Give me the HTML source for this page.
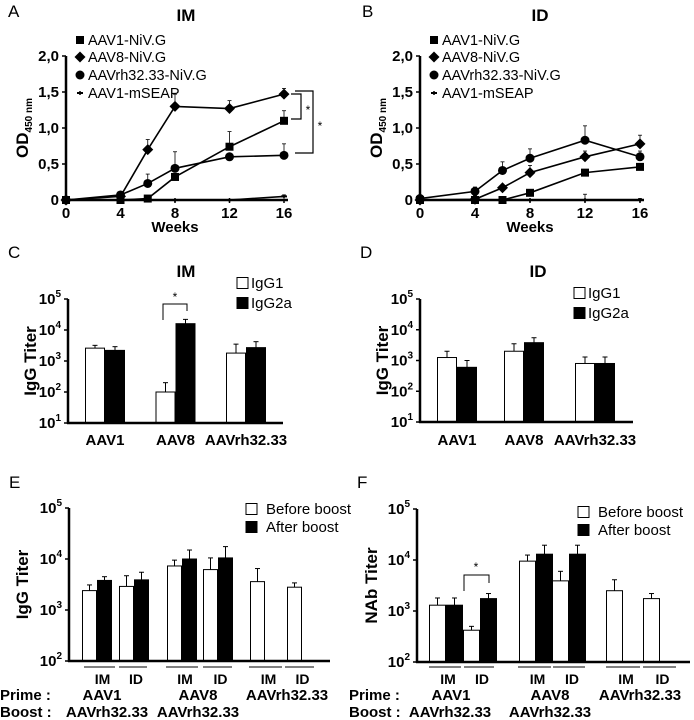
<!DOCTYPE html>
<html><head><meta charset="utf-8"><style>
html,body{margin:0;padding:0;background:#fff;}
svg{display:block;font-family:"Liberation Sans",Arial,sans-serif;}
</style></head>
<body>
<svg id="fig" width="694" height="720" viewBox="0 0 694 720" xmlns="http://www.w3.org/2000/svg"></svg>
<script>
// ---- Data: line panels (A: IM, B: ID) ----
const weeks = [0, 4, 6, 8, 12, 16];
const weekTicks = [0, 4, 8, 12, 16];
const odTicks = ["0", "0,5", "1,0", "1,5", "2,0"];
const odTickValues = [0, 0.5, 1.0, 1.5, 2.0];
const seriesNames = ["AAV1-NiV.G", "AAV8-NiV.G", "AAVrh32.33-NiV.G", "AAV1-mSEAP"];
const imAav1 = [0, 0, 0.02, 0.32, 0.74, 1.1];
const imAav1Err = [0, 0, 0, 0, 0.21, 0.14];
const imAav8 = [0, 0.05, 0.7, 1.3, 1.27, 1.47];
const imAav8Err = [0, 0, 0.14, 0.17, 0.11, 0.08];
const imRh = [0, 0.07, 0.23, 0.44, 0.6, 0.62];
const imRhErr = [0, 0, 0.13, 0.23, 0, 0.16];
const imSeap = [0, 0, 0, 0, 0, 0.05];
const imSeapErr = [0, 0, 0, 0, 0, 0.02];
const idAav1 = [0, 0, 0, 0.1, 0.38, 0.46];
const idAav1Err = [0, 0, 0, 0, 0, 0];
const idAav8 = [0, 0.01, 0.17, 0.38, 0.6, 0.78];
const idAav8Err = [0, 0, 0, 0.1, 0.08, 0.12];
const idRh = [0.02, 0.12, 0.41, 0.58, 0.83, 0.6];
const idRhErr = [0, 0.06, 0.12, 0.13, 0.2, 0.08];
const idSeap = [0, 0, 0, 0, 0, 0];
const idSeapErr = [0, 0, 0, 0, 0.08, 0.02];

// ---- Data: IgG subclass panels (C: IM, D: ID) ----
const subclassCats = ["AAV1", "AAV8", "AAVrh32.33"];
const imIgG1 = [2600, 100, 1800];
const imIgG1Top = [3200, 200, 3500];
const imIgG2a = [2200, 16000, 2700];
const imIgG2aTop = [2900, 22000, 4200];
const idIgG1 = [1250, 2000, 800];
const idIgG1Top = [2000, 3500, 1300];
const idIgG2a = [600, 3800, 800];
const idIgG2aTop = [1000, 5500, 1300];

// ---- Data: prime-boost panels (E: IgG, F: NAb) ----
const routeCats = ["IM", "ID", "IM", "ID", "IM", "ID"];
const eBefore = [2400, 2900, 7300, 6200, 3600, 2800];
const eBeforeTop = [3100, 4700, 9500, 10500, 6500, 3400];
const eAfter = [3800, 3900, 10000, 10500, null, null];
const eAfterTop = [4500, 5500, 15000, 17500, null, null];
const fBefore = [1300, 420, 9500, 3900, 2500, 1750];
const fBeforeTop = [1800, 500, 12500, 6000, 4100, 2200];
const fAfter = [1300, 1750, 13000, 13000, null, null];
const fAfterTop = [1800, 2200, 19500, 19500, null, null];

const NS = "http://www.w3.org/2000/svg";
const svg = document.getElementById("fig");
function mk(tag, attrs, parent) {
  const e = document.createElementNS(NS, tag);
  for (const k in attrs) e.setAttribute(k, attrs[k]);
  (parent || svg).appendChild(e);
  return e;
}
function txt(s, x, y, size, bold, anchor, parent) {
  const t = mk("text", {x: x, y: y, "font-size": size, "text-anchor": anchor || "start", "font-weight": bold ? "bold" : "normal"}, parent);
  t.textContent = s;
  return t;
}
function line(x1, y1, x2, y2, w, parent) {
  return mk("line", {x1: x1, y1: y1, x2: x2, y2: y2, stroke: "#000", "stroke-width": w || 1}, parent);
}
function marker(kind, x, y, g) {
  if (kind === 0) mk("rect", {x: x - 4, y: y - 4, width: 8, height: 8, fill: "#000"}, g);
  else if (kind === 1) mk("polygon", {points: `${x},${y-5.5} ${x+5.5},${y} ${x},${y+5.5} ${x-5.5},${y}`, fill: "#000"}, g);
  else if (kind === 2) mk("circle", {cx: x, cy: y, r: 4.5, fill: "#000"}, g);
  else { line(x - 3, y, x + 3, y, 2, g); line(x, y - 2, x, y + 2, 1.5, g); }
}

function linePanel(name, ox, x16, letter, title, series, errs) {
  const g = mk("g", {});
  
  
  const y0 = 200, y2 = 56;
  const X = w => ox + (x16 - ox) * w / 16;
  const Y = v => y0 - (y0 - y2) * v / 2;
  const L = txt(letter, ox - 58, 17, 17, false, "start", g);
  
  
  const T = txt(title, ox + 120, 21, 17, true, "middle", g);
  
  
  series.forEach((s, si) => {
    const sg = mk("g", {}, g);
    
    
    const pts = weeks.map((w, i) => X(w) + "," + Y(s[i])).join(" ");
    mk("polyline", {points: pts, fill: "none", stroke: "#000", "stroke-width": 1.6}, sg);
    weeks.forEach((w, i) => {
      const e = errs[si][i];
      if (e > 0) { line(X(w), Y(s[i]), X(w), Y(s[i] + e), 0.8, sg); line(X(w) - 2, Y(s[i] + e), X(w) + 2, Y(s[i] + e), 0.8, sg); }
      marker(si, X(w), Y(s[i]), sg);
    });
  });
  const ax = mk("g", {}, g);
  
  
  line(ox, y2, ox, y0 + 1, 2.5, ax);
  line(ox - 1, y0, X(16) + 4, y0, 2.5, ax);
  odTickValues.forEach((v, i) => {
    line(ox - 4, Y(v), ox, Y(v), 1.5, ax);
    txt(odTicks[i], ox - 7, Y(v) + 5, 15, true, "end", ax);
  });
  weekTicks.forEach(w => {
    line(X(w), y0, X(w), y0 + 3, 1.5, ax);
    txt(String(w), X(w), 218, 15, true, "middle", ax);
  });
  const xt = txt("Weeks", X(8), 232, 15, true, "middle", ax);
  
  
  const yt = mk("text", {transform: `translate(${ox - 38},128) rotate(-90)`, "font-size": 17, "font-weight": "bold", "text-anchor": "middle"}, ax);
  
  
  yt.innerHTML = 'OD<tspan font-size="10" dy="4">450 nm</tspan>';
  const lg = mk("g", {}, g);
  
  
  [40, 57, 75, 93].forEach((yy, i) => {
    marker(i, ox + 14, yy, lg);
    const lt = txt(seriesNames[i], ox + 22, yy + 5, 14.5, false, "start", lg);
    
    
  });
  return {g: g, X: X, Y: Y};
}

function logTick(ax, x, y, exp) {
  const t = mk("text", {x: x, y: y + 5, "font-size": 15, "font-weight": "bold", "text-anchor": "end"}, ax);
  t.innerHTML = '10<tspan font-size="10" dy="-7">' + exp + '</tspan>';
}

function barPanel(cfg) {
  const g = mk("g", {});
  
  
  const Y = v => cfg.yBot - (Math.log10(v) - cfg.dMin) * (cfg.yBot - cfg.yTop) / (cfg.dMax - cfg.dMin);
  const L = txt(cfg.letter, cfg.ox - 60, cfg.letterY, 17, false, "start", g);
  
  
  if (cfg.title) {
    const T = txt(cfg.title, cfg.ox + 118, 277, 17, true, "middle", g);
    
    
  }
  const bw = cfg.bw;
  cfg.centers.forEach((c, i) => {
    [[cfg.s1, cfg.s1Top, "#fff", c - bw, "bar-white"], [cfg.s2, cfg.s2Top, "#000", c, "bar-black"]].forEach(([vals, tops, fill, x0, nm]) => {
      const v = vals[i];
      if (v == null) return;
      const bg = mk("g", {}, g);
      
      
      const xm = x0 + bw / 2;
      line(xm, Y(v), xm, Y(tops[i]), 1, bg);
      line(xm - 2.5, Y(tops[i]), xm + 2.5, Y(tops[i]), 1, bg);
      mk("rect", {x: x0 + 0.5, y: Y(v), width: bw - 1, height: cfg.yBot - Y(v), fill: fill, stroke: "#000", "stroke-width": 1}, bg);
    });
  });
  const ax = mk("g", {}, g);
  
  
  line(cfg.ox, cfg.yTop, cfg.ox, cfg.yBot + 1, 2.5, ax);
  line(cfg.ox - 1, cfg.yBot, cfg.xEnd, cfg.yBot, 2.5, ax);
  for (let d = cfg.dMin; d <= cfg.dMax; d++) {
    const yy = Y(Math.pow(10, d));
    line(cfg.ox - 4, yy, cfg.ox, yy, 1.5, ax);
    logTick(ax, cfg.ox - 7, yy, d);
  }
  const yt = txt(cfg.ylabel, 0, 0, 17, true, "middle", ax);
  yt.setAttribute("transform", `translate(${cfg.ylx},${(cfg.yTop + cfg.yBot) / 2}) rotate(-90)`);
  
  
  const lg = mk("g", {}, g);
  
  
  cfg.legend.forEach((s, i) => {
    const yy = cfg.legY + i * cfg.legDy;
    mk("rect", {x: cfg.legX, y: yy - 5.5, width: 11, height: 11, fill: i ? "#000" : "#fff", stroke: "#000", "stroke-width": 1}, lg);
    const lt = txt(s, cfg.legX + cfg.legTx, yy + 5, 15, false, "start", lg);
    
    
  });
  return {g: g, Y: Y, ax: ax};
}

// Panel A
const pA = linePanel("panel-a-im-od", 66, 284, "A", "IM", [imAav1, imAav8, imRh, imSeap], [imAav1Err, imAav8Err, imRhErr, imSeapErr]);
{
  const sg = mk("g", {}, pA.g);
  
  
  mk("polyline", {points: "291,94 301,94 301,119 291,119", fill: "none", stroke: "#000", "stroke-width": 1.2}, sg);
  mk("polyline", {points: "295,91 313,91 313,153 295,153", fill: "none", stroke: "#000", "stroke-width": 1.2}, sg);
  txt("*", 308, 114, 12, false, "middle", sg);
  txt("*", 320, 130, 12, false, "middle", sg);
}
// Panel B
linePanel("panel-b-id-od", 420, 640, "B", "ID", [idAav1, idAav8, idRh, idSeap], [idAav1Err, idAav8Err, idRhErr, idSeapErr]);

// Panel C
const pC = barPanel({name: "panel-c-im-igg", letter: "C", letterY: 258, title: "IM", ox: 68, xEnd: 283, yTop: 299, yBot: 423, dMin: 1, dMax: 5,
  centers: [105, 175.5, 246], bw: 20, s1: imIgG1, s1Top: imIgG1Top, s2: imIgG2a, s2Top: imIgG2aTop, ylabel: "IgG Titer", ylx: 36,
  legend: ["IgG1", "IgG2a"], legX: 237, legY: 283, legDy: 20, legTx: 14});
subclassCats.forEach((c, i) => {
  const t = txt(c, [105, 175.5, 246][i], 445, 15, true, "middle", pC.ax);
  
  
});
{
  const sg = mk("g", {}, pC.g);
  
  
  mk("polyline", {points: "163,320 163,304 187,304 187,311", fill: "none", stroke: "#000", "stroke-width": 1}, sg);
  txt("*", 175, 301, 12, false, "middle", sg);
}
// Panel D
const pD = barPanel({name: "panel-d-id-igg", letter: "D", letterY: 258, title: "ID", ox: 420, xEnd: 633, yTop: 299, yBot: 422, dMin: 1, dMax: 5,
  centers: [457, 524, 595], bw: 20, s1: idIgG1, s1Top: idIgG1Top, s2: idIgG2a, s2Top: idIgG2aTop, ylabel: "IgG Titer", ylx: 388,
  legend: ["IgG1", "IgG2a"], legX: 574, legY: 293, legDy: 20, legTx: 14});
subclassCats.forEach((c, i) => {
  const t = txt(c, [457, 524, 595][i], 445, 15, true, "middle", pD.ax);
  
  
});

function primeBoost(p, segs, primeX, boostX, labelX) {
  const lg = mk("g", {}, p.g);
  
  
  segs.forEach(([a, b], i) => {
    line(a, 667, b, 667, 1, lg);
    const t = txt(routeCats[i], (a + b) / 2 + 3, 684, 14, true, "middle", lg);
    
    
  });
  txt("Prime :", labelX, 700, 15, true, "start", lg);
  txt("Boost :", labelX, 717, 15, true, "start", lg);
  ["AAV1", "AAV8", "AAVrh32.33"].forEach((s, i) => txt(s, primeX[i], 700, 15, true, "middle", lg));
  ["AAVrh32.33", "AAVrh32.33"].forEach((s, i) => txt(s, boostX[i], 717, 15, true, "middle", lg));
}
// Panel E
const pE = barPanel({name: "panel-e-igg-boost", letter: "E", letterY: 488, ox: 69, xEnd: 330, yTop: 508, yBot: 661, dMin: 2, dMax: 5,
  centers: [97, 134, 182, 218, 265, 302], bw: 15, s1: eBefore, s1Top: eBeforeTop, s2: eAfter, s2Top: eAfterTop, ylabel: "IgG Titer", ylx: 28,
  legend: ["Before boost", "After boost"], legX: 246, legY: 509, legDy: 18, legTx: 20});
primeBoost(pE, [[84, 115], [119, 147], [166, 198], [203, 232], [249, 282], [285, 314]], [102, 198, 287], [107, 198], 0);
// Panel F
const pF = barPanel({name: "panel-f-nab-boost", letter: "F", letterY: 488, ox: 417, xEnd: 690, yTop: 509, yBot: 662, dMin: 2, dMax: 5,
  centers: [446, 480, 536, 569, 623, 660], bw: 17, s1: fBefore, s1Top: fBeforeTop, s2: fAfter, s2Top: fAfterTop, ylabel: "NAb Titer", ylx: 377,
  legend: ["Before boost", "After boost"], legX: 578, legY: 512, legDy: 18, legTx: 20});
primeBoost(pF, [[429, 461], [464, 494], [518, 551], [553, 585], [606, 640], [643, 676]], [451, 550, 640], [450, 550], 349);
{
  const sg = mk("g", {}, pF.g);
  
  
  mk("polyline", {points: "464,591 464,575 489,575 489,583", fill: "none", stroke: "#000", "stroke-width": 1}, sg);
  txt("*", 476, 571, 12, false, "middle", sg);
}
</script>
</body></html>
